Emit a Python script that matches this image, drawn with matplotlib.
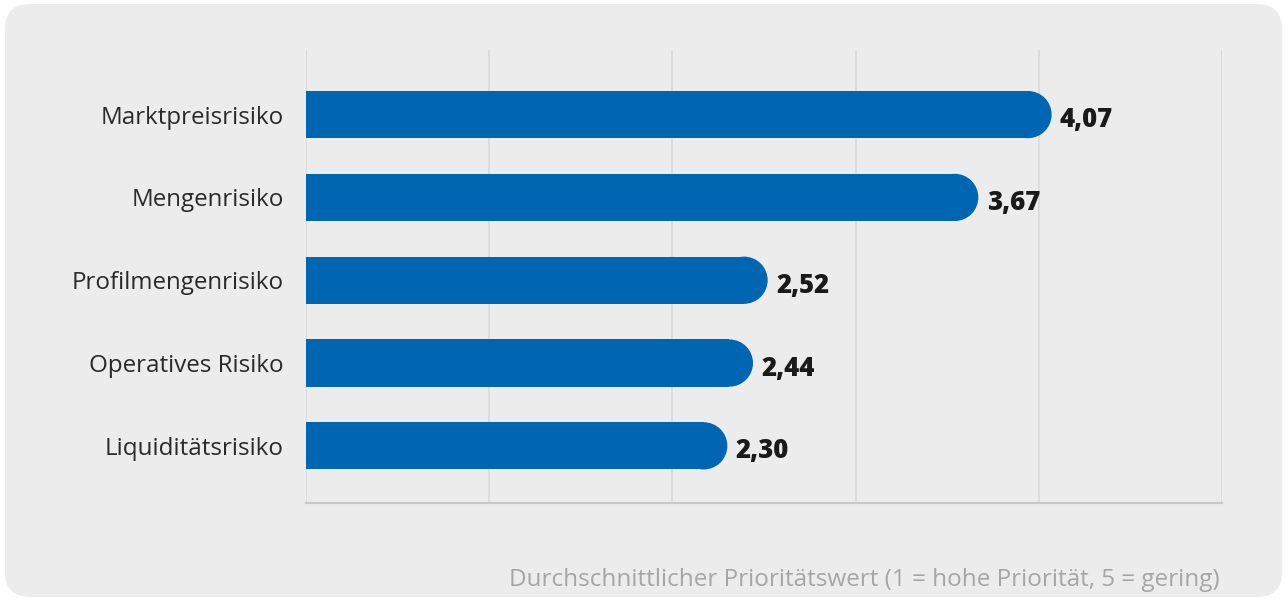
import matplotlib
matplotlib.use("Agg")
import matplotlib.pyplot as plt
from matplotlib.patches import FancyBboxPatch, Rectangle, Ellipse

categories = ["Marktpreisrisiko", "Mengenrisiko", "Profilmengenrisiko",
              "Operatives Risiko", "Liquiditätsrisiko"]
values = [4.07, 3.67, 2.52, 2.44, 2.30]
x_ticks = [0, 1, 2, 3, 4, 5]
x_label = "Durchschnittlicher Prioritätswert (1 = hohe Priorität, 5 = gering)"

plt.rcParams['font.family'] = ['Open Sans', 'DejaVu Sans']

W, H = 1286, 601
fig = plt.figure(figsize=(W / 100, H / 100), dpi=100)
fig.patch.set_facecolor('white')

# rounded background panel
panel = FancyBboxPatch((5 / W, 4 / H), (W - 9) / W, (H - 8) / H,
                       boxstyle=f"round,pad=0,rounding_size={25 / W}",
                       mutation_aspect=W / H, transform=fig.transFigure,
                       facecolor='#ececec', edgecolor='none', zorder=-5)
fig.patches.append(panel)

left, right, top, bottom = 306, 1222, 50, 503
ax = fig.add_axes([left / W, (H - bottom) / H, (right - left) / W, (bottom - top) / H])
ax.set_zorder(2)
ax.set_facecolor('none')

n = len(categories)
ax.set_xlim(0, 5)
ax.set_ylim(n - 1 + 0.69, -0.78)

bar_h = 0.57
bar_color = '#0066B2'
x_pp = 5 / (right - left)
y_pp = (n - 1 + 0.69 + 0.78) / (bottom - top)
rx = (bar_h / 2) / y_pp * x_pp   # cap radius in x data units (circle on screen)

for i, v in enumerate(values):
    ax.add_patch(Rectangle((0, i - bar_h / 2), v - rx, bar_h,
                           facecolor=bar_color, edgecolor='none', zorder=3))
    ax.add_patch(Ellipse((v - rx, i), 2 * rx, bar_h,
                         facecolor=bar_color, edgecolor='none', zorder=3))
    ax.annotate(f"{v:.2f}".replace('.', ','), xy=(v, i), xytext=(6, -4),
                textcoords='offset points', ha='left', va='center',
                fontsize=18.5, fontweight=800, color='#1a1a1a', zorder=4)

ax.set_yticks(range(n))
ax.set_yticklabels(categories, fontsize=17.4, color='#2a2a2a')
ax.tick_params(axis='y', length=0, pad=16)
ax.set_xticks(x_ticks)
ax.set_xticklabels([])
ax.tick_params(axis='x', length=0)
ax.grid(axis='x', color='#d9d9d9', linewidth=1.2, zorder=0)
ax.set_axisbelow(True)
for s in ['top', 'right', 'left']:
    ax.spines[s].set_visible(False)
ax.spines['bottom'].set_color('#c8c8c8')
ax.spines['bottom'].set_linewidth(1.5)

fig.text(1220 / W, (H - 580) / H, x_label, ha='right', va='center',
         fontsize=17.5, color='#a6a6a6')

fig.savefig("out.png", dpi=100, facecolor=fig.get_facecolor())
